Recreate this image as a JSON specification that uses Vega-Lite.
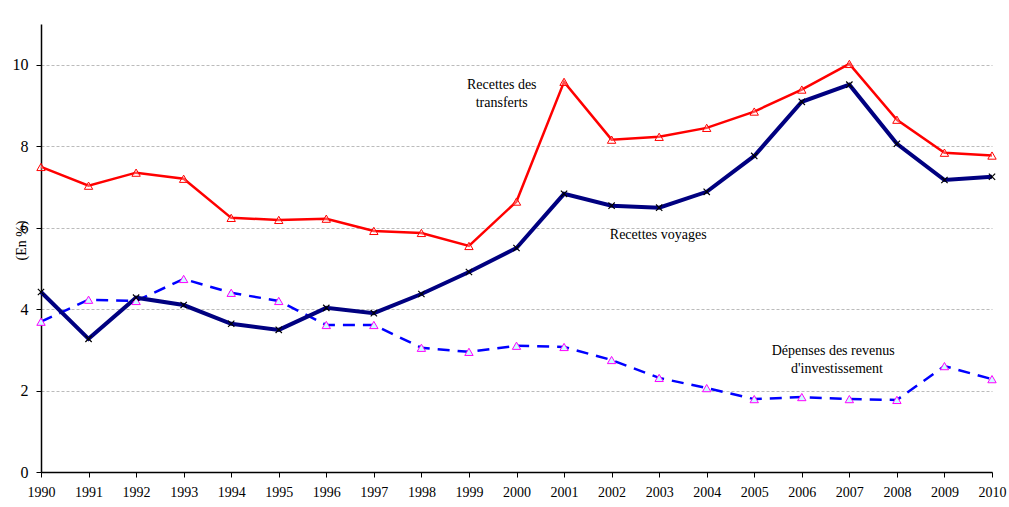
{
  "$schema": "https://vega.github.io/schema/vega-lite/v6.json",
  "width": 951,
  "height": 448,
  "autosize": "none",
  "padding": {"left": 41, "top": 24, "right": 17, "bottom": 35},
  "background": "white",
  "config": {
    "view": {"stroke": null},
    "font": "'Liberation Serif', 'Times New Roman', serif",
    "axis": {"labelFont": "'Liberation Serif', 'Times New Roman', serif", "titleFont": "'Liberation Serif', 'Times New Roman', serif", "labelColor": "#000", "titleColor": "#000", "domainColor": "#000", "tickColor": "#000"}
  },
  "datasets": {
    "series": [
      {"year": 1990, "series": "transferts", "value": 7.49},
      {"year": 1991, "series": "transferts", "value": 7.03},
      {"year": 1992, "series": "transferts", "value": 7.35},
      {"year": 1993, "series": "transferts", "value": 7.2},
      {"year": 1994, "series": "transferts", "value": 6.24},
      {"year": 1995, "series": "transferts", "value": 6.19},
      {"year": 1996, "series": "transferts", "value": 6.22},
      {"year": 1997, "series": "transferts", "value": 5.92},
      {"year": 1998, "series": "transferts", "value": 5.87},
      {"year": 1999, "series": "transferts", "value": 5.55},
      {"year": 2000, "series": "transferts", "value": 6.64},
      {"year": 2001, "series": "transferts", "value": 9.58},
      {"year": 2002, "series": "transferts", "value": 8.16},
      {"year": 2003, "series": "transferts", "value": 8.23},
      {"year": 2004, "series": "transferts", "value": 8.45},
      {"year": 2005, "series": "transferts", "value": 8.85},
      {"year": 2006, "series": "transferts", "value": 9.39},
      {"year": 2007, "series": "transferts", "value": 10.02},
      {"year": 2008, "series": "transferts", "value": 8.65},
      {"year": 2009, "series": "transferts", "value": 7.84},
      {"year": 2010, "series": "transferts", "value": 7.77},
      {"year": 1990, "series": "voyages", "value": 4.42},
      {"year": 1991, "series": "voyages", "value": 3.27},
      {"year": 1992, "series": "voyages", "value": 4.28},
      {"year": 1993, "series": "voyages", "value": 4.1},
      {"year": 1994, "series": "voyages", "value": 3.64},
      {"year": 1995, "series": "voyages", "value": 3.49},
      {"year": 1996, "series": "voyages", "value": 4.03},
      {"year": 1997, "series": "voyages", "value": 3.9},
      {"year": 1998, "series": "voyages", "value": 4.37},
      {"year": 1999, "series": "voyages", "value": 4.91},
      {"year": 2000, "series": "voyages", "value": 5.5},
      {"year": 2001, "series": "voyages", "value": 6.83},
      {"year": 2002, "series": "voyages", "value": 6.54},
      {"year": 2003, "series": "voyages", "value": 6.49},
      {"year": 2004, "series": "voyages", "value": 6.88},
      {"year": 2005, "series": "voyages", "value": 7.76},
      {"year": 2006, "series": "voyages", "value": 9.09},
      {"year": 2007, "series": "voyages", "value": 9.51},
      {"year": 2008, "series": "voyages", "value": 8.06},
      {"year": 2009, "series": "voyages", "value": 7.17},
      {"year": 2010, "series": "voyages", "value": 7.25},
      {"year": 1990, "series": "investissement", "value": 3.69},
      {"year": 1991, "series": "investissement", "value": 4.23},
      {"year": 1992, "series": "investissement", "value": 4.2},
      {"year": 1993, "series": "investissement", "value": 4.74},
      {"year": 1994, "series": "investissement", "value": 4.4},
      {"year": 1995, "series": "investissement", "value": 4.2},
      {"year": 1996, "series": "investissement", "value": 3.61},
      {"year": 1997, "series": "investissement", "value": 3.61},
      {"year": 1998, "series": "investissement", "value": 3.05},
      {"year": 1999, "series": "investissement", "value": 2.95},
      {"year": 2000, "series": "investissement", "value": 3.1},
      {"year": 2001, "series": "investissement", "value": 3.07},
      {"year": 2002, "series": "investissement", "value": 2.75},
      {"year": 2003, "series": "investissement", "value": 2.31},
      {"year": 2004, "series": "investissement", "value": 2.06},
      {"year": 2005, "series": "investissement", "value": 1.79},
      {"year": 2006, "series": "investissement", "value": 1.84},
      {"year": 2007, "series": "investissement", "value": 1.79},
      {"year": 2008, "series": "investissement", "value": 1.77},
      {"year": 2009, "series": "investissement", "value": 2.6},
      {"year": 2010, "series": "investissement", "value": 2.28}
    ],
    "labels": [
      {"x": 1999.69, "y": 9.5, "text": "Recettes des"},
      {"x": 1999.69, "y": 9.06, "text": "transferts"},
      {"x": 2002.98, "y": 5.82, "text": "Recettes voyages"},
      {"x": 2006.66, "y": 2.97, "text": "Dépenses des revenus"},
      {"x": 2006.74, "y": 2.53, "text": "d'investissement"}
    ]
  },
  "encoding": {
    "x": {
      "field": "year", "type": "quantitative",
      "scale": {"domain": [1990, 2010], "nice": false, "zero": false},
      "axis": {"values": [1990,1991,1992,1993,1994,1995,1996,1997,1998,1999,2000,2001,2002,2003,2004,2005,2006,2007,2008,2009,2010], "format": "d", "title": null, "grid": false, "labelFontSize": 14, "labelPadding": 8, "tickSize": 5, "domainWidth": 1.5, "labelOverlap": false, "labelFlush": false}
    },
    "y": {
      "field": "value", "type": "quantitative",
      "scale": {"domain": [0, 11], "nice": false},
      "axis": {"values": [0,2,4,6,8,10], "title": "(En %)", "titleFontSize": 14, "titleFontWeight": "normal", "titleX": -20, "titleY": 216, "titleAngle": -90, "titleBaseline": "middle", "titleAlign": "center", "labelFontSize": 16, "labelPadding": 8, "tickSize": 5, "domainWidth": 1.5, "grid": true, "gridColor": "#bbbbbb", "gridDash": [3, 2], "gridWidth": 1}
    }
  },
  "layer": [
    {
      "data": {"name": "series"},
      "transform": [{"filter": "datum.series == 'investissement'"}],
      "mark": {"type": "line", "color": "#0000ff", "strokeWidth": 2.5, "strokeDash": [12, 8]}
    },
    {
      "data": {"name": "series"},
      "transform": [{"filter": "datum.series == 'voyages'"}],
      "mark": {"type": "line", "color": "#000080", "strokeWidth": 4}
    },
    {
      "data": {"name": "series"},
      "transform": [{"filter": "datum.series == 'transferts'"}],
      "mark": {"type": "line", "color": "#ff0000", "strokeWidth": 2.5}
    },
    {
      "data": {"name": "series"},
      "transform": [{"filter": "datum.series == 'investissement'"}],
      "mark": {"type": "point", "shape": "triangle-up", "size": 70, "filled": true, "fill": "#ccffff", "stroke": "#ff00ff", "strokeWidth": 1, "opacity": 1}
    },
    {
      "data": {"name": "series"},
      "transform": [{"filter": "datum.series == 'voyages'"}],
      "mark": {"type": "point", "shape": "M-1,-1L1,1M-1,1L1,-1", "size": 40, "filled": false, "stroke": "#000000", "strokeWidth": 1.2, "opacity": 1}
    },
    {
      "data": {"name": "series"},
      "transform": [{"filter": "datum.series == 'transferts'"}],
      "mark": {"type": "point", "shape": "triangle-up", "size": 70, "filled": true, "fill": "#ffffff", "fillOpacity": 0.3, "stroke": "#ff0000", "strokeWidth": 1, "opacity": 1}
    },
    {
      "data": {"name": "labels"},
      "mark": {"type": "text", "font": "'Liberation Serif', 'Times New Roman', serif", "fontSize": 14, "align": "center", "baseline": "middle", "color": "#000"},
      "encoding": {
        "x": {"field": "x", "type": "quantitative"},
        "y": {"field": "y", "type": "quantitative"},
        "text": {"field": "text", "type": "nominal"}
      }
    }
  ]
}
